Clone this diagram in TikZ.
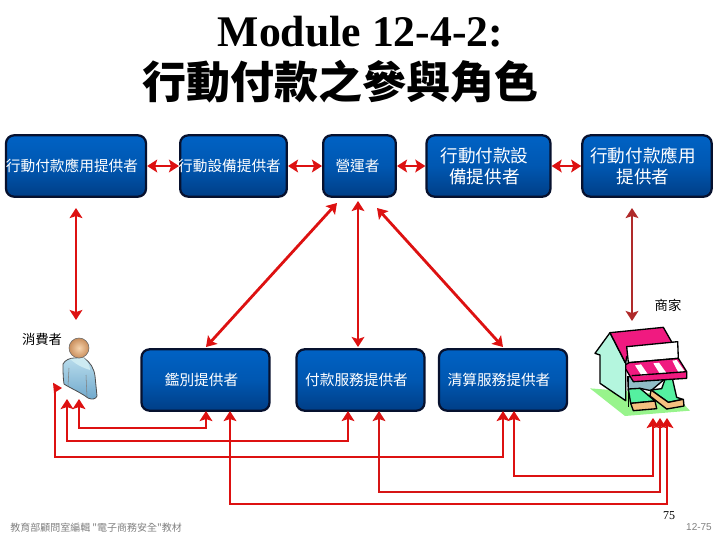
\documentclass[tikz,border=0pt]{standalone}
\usepackage{fontspec}
\setmainfont{Liberation Serif}
\newfontfamily\cjk{Noto Sans CJK TC}
\newfontfamily\heros{Liberation Sans}
\usetikzlibrary{arrows.meta,calc}
\definecolor{arrowred}{HTML}{DD1111}
\definecolor{arrowbrown}{HTML}{B02A2A}
\definecolor{boxtop}{HTML}{0062C4}
\definecolor{boxbot}{HTML}{003E86}
\definecolor{boxline}{HTML}{07112E}
\definecolor{pinkroof}{HTML}{F01A80}
\definecolor{wallmint}{HTML}{B4F6DE}
\definecolor{groundgreen}{HTML}{98F48C}
\definecolor{stepgreen}{HTML}{55F0A0}
\definecolor{steporange}{HTML}{F5C080}
\definecolor{interior}{HTML}{90BEC6}
\definecolor{bodytop}{HTML}{B8DCEC}
\definecolor{bodybot}{HTML}{6FA8CC}
\definecolor{collar}{HTML}{CDEBF2}
\definecolor{headin}{HTML}{F6D4AE}
\definecolor{headout}{HTML}{C98E5C}
\newcommand{\sh}{\hspace*{6pt}}
\tikzset{
  rolebox/.style={draw=boxline,line width=1.7pt,rounded corners=6pt,top color=boxtop,bottom color=boxbot,
     middle color=boxtop!70!boxbot,inner sep=0pt,align=center,text=white,font=\cjk},
  large/.style={font=\cjk\fontsize{13.2}{16}\selectfont},
  small/.style={font=\cjk\fontsize{11}{14}\selectfont},
  conn/.style={draw=arrowred,line width=2.1pt,{Stealth[length=7.5pt,width=9.5pt,inset=1.5pt]}-{Stealth[length=7.5pt,width=9.5pt,inset=1.5pt]}},
  connbrown/.style={conn,draw=arrowbrown,line width=1.6pt},
  plain/.style={inner sep=0pt},
  shopline/.style={draw=black,line width=1pt,line join=round}
}
\begin{document}
\begin{tikzpicture}[x=0.75pt,y=-0.75pt]
\useasboundingbox (0,0) rectangle (720,540);
% title
\node[plain,font=\bfseries\fontsize{32.8}{36}\selectfont] (t1) at (360.5,32) {Module 12-4-2:};
\node[plain,font=\cjk\bfseries\fontsize{33}{38}\selectfont] (t2) at (340,82) {行動付款之參與角色};
% top boxes
\node[rolebox,small,minimum width=105pt,minimum height=46pt] (a) at (76,166) {行動付款應用提供者\sh};
\node[rolebox,small,minimum width=80pt,minimum height=46pt] (b) at (233.5,166) {\makebox[70pt][l]{\hspace*{-6.5pt}行動設備提供者}};
\node[rolebox,small,minimum width=54.5pt,minimum height=46pt] (c) at (359.5,166) {營運者\hspace*{3pt}};
\node[rolebox,large,minimum width=93pt,minimum height=46pt] (d) at (488.5,166) {行動付款設\sh\\備提供者\sh};
\node[rolebox,large,minimum width=97pt,minimum height=46pt] (e) at (647,166) {行動付款應用\sh\\提供者\sh};
% lower boxes
\node[rolebox,small,minimum width=96pt,minimum height=46pt] (f) at (205.5,380) {\raisebox{1.5pt}{鑑別提供者}\sh};
\node[rolebox,small,minimum width=96pt,minimum height=46pt] (g) at (360.5,380) {\raisebox{1.5pt}{付款服務提供者}\sh};
\node[rolebox,small,minimum width=96pt,minimum height=46pt] (h) at (503,380) {\raisebox{1.5pt}{清算服務提供者}\sh};
% labels
\node[plain,font=\cjk\fontsize{10}{12}\selectfont] (shoplabel) at (668,305) {商家};
\node[plain,font=\cjk\fontsize{10}{12}\selectfont] (conslabel) at (42,339) {消費者};
\node[plain,anchor=west,text=black!50,font=\cjk\fontsize{7.5}{10}\selectfont] (foot) at (10,528) {教育部顧問室編輯 "電子商務安全"教材};
\node[plain,font=\fontsize{9}{11}\selectfont] (num) at (669,516) {75};
\node[plain,text=black!50,font=\heros\fontsize{7.5}{10}\selectfont] (pg) at (699,527) {12-75};
% person
\draw[draw=black!70,line width=.6pt,top color=bodytop,bottom color=bodybot]
  (63,364) .. controls (65,360) and (70,358) .. (74,358) -- (84,358)
  .. controls (90,362) and (94,368) .. (95,376) -- (97,396)
  .. controls (96,399) and (92,400) .. (88,398) .. controls (80,392) and (70,388) .. (64,384)
  .. controls (63,378) and (63,370) .. (63,364) -- cycle;
\fill[collar] (70,359) -- (84,358) .. controls (88,362) and (90,366) .. (90,370)
  .. controls (84,368) and (78,366) .. (70,359) -- cycle;
\draw[black!50,line width=.4pt] (69,368) -- (68,386);
\draw[black!50,line width=.4pt] (86,375) -- (87,397);
\draw[black!60,line width=.4pt,inner color=headin,outer color=headout] (79,348) circle (10);
% shop
\begin{scope}[shift={(585,320)},x=0.25pt,y=-0.25pt]
\fill[groundgreen] (15,205) -- (120,288) -- (315,272) -- (270,225) -- cycle;
\filldraw[shopline,fill=wallmint] (30,100) -- (75,38) -- (122,130) -- (122,242) -- (45,190) -- (45,105) -- cycle;
\filldraw[shopline,fill=pinkroof] (75,38) -- (235,22) -- (275,92) -- (125,110) -- (122,130) -- cycle;
\filldraw[shopline,fill=white] (125,80) -- (278,65) -- (280,115) -- (130,128) -- cycle;
\filldraw[shopline,fill=interior] (128,170) -- (245,172) -- (198,212) -- (165,205) -- (130,212) -- cycle;
\draw[shopline] (130,170) -- (130,262);
\filldraw[shopline,fill=stepgreen] (240,178) -- (262,175) -- (275,232) -- (293,238) -- (250,247) -- (198,210) -- (230,206) -- cycle;
\filldraw[shopline,fill=stepgreen] (130,207) -- (165,205) -- (210,243) -- (137,250) -- cycle;
\filldraw[shopline,fill=steporange] (137,250) -- (210,243) -- (215,266) -- (145,272) -- cycle;
\filldraw[shopline,fill=steporange] (198,210) -- (250,247) -- (295,238) -- (297,258) -- (245,267) -- (195,228) -- cycle;
\filldraw[shopline,fill=pinkroof] (122,134) -- (132,128) -- (280,115) -- (305,155) -- (305,175) -- (145,185) -- (122,147) -- cycle;
\fill[white] (150,136) -- (168,133) -- (190,165) -- (170,167) -- cycle;
\fill[white] (205,130) -- (222,128) -- (245,160) -- (225,162) -- cycle;
\fill[white] (262,122) -- (275,120) -- (300,155) -- (280,157) -- cycle;
\draw[shopline] (140,167) -- (305,155);
\end{scope}
% top row connectors
\draw[conn] (a.east) -- (b.west);
\draw[conn] (b.east) -- (c.west);
\draw[conn] (c.east) -- (d.west);
\draw[conn] (d.east) -- (e.west);
% free ends
\coordinate (a1) at (76,208);   \coordinate (p0) at (76,320);
\coordinate (c1) at (337,203);  \coordinate (f0) at (206,347);
\coordinate (c2) at (358,201);  \coordinate (g0) at (358,347);
\coordinate (c3) at (377,208);  \coordinate (h0) at (503,347);
\coordinate (e1) at (632,208);  \coordinate (s0) at (632,321);
\coordinate (p1) at (79,399);   \coordinate (f1) at (206,411);
\coordinate (p2) at (67,399);   \coordinate (g1) at (348,411);
\coordinate (p3) at (54.5,388); \coordinate (h1) at (503,411);
\coordinate (f2) at (230,411);  \coordinate (s1) at (667,418);
\coordinate (h2) at (514,411);  \coordinate (s2) at (653,418);
\coordinate (g2) at (379,411);  \coordinate (s3) at (660,418);
% vertical and diagonal connectors
\draw[conn,line width=1.6pt] (a1) -- (p0);
\draw[conn] (c1) -- (f0);
\draw[conn,line width=1.7pt] (c2) -- (g0);
\draw[conn] (c3) -- (h0);
\draw[connbrown] (e1) -- (s0);
% lower connectors
\draw[connbrown,draw=arrowred!85!arrowbrown] (g2) -- ++(0,81) -| (s3);
\draw[conn] (p1) -- ++(0,29) -| (f1);
\draw[conn] (p2) -- ++(0,42) -| (g1);
\fill[arrowred] (53,382.7) -- (62,388) -- (54,393) -- cycle;
\draw[draw=arrowred,line width=1.5pt,-{Stealth[length=7.5pt,width=9.5pt,inset=1.5pt]}] (p3) -- ++(0,69) -| (h1);
\draw[conn,line width=1.8pt] (f2) -- ++(0,93) -| (s1);
\draw[conn] (h2) -- ++(0,65) -| (s2);
\end{tikzpicture}
\end{document}
